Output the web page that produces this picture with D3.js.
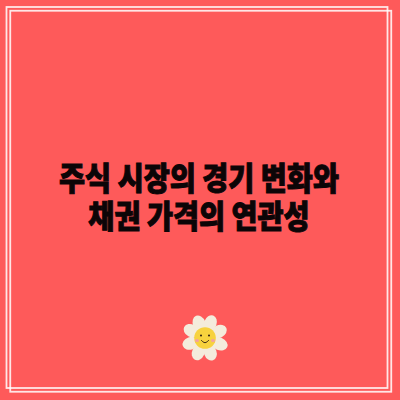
<!DOCTYPE html>
<html>
<head>
<meta charset="utf-8">
<script src="https://cdn.jsdelivr.net/npm/d3@7"></script>
<style>
html, body { margin: 0; padding: 0; background: #fe5a5a; }
svg { display: block; }
</style>
</head>
<body>
<div id="fig"></div>
<script>
var titleLines = ["주식 시장의 경기 변화와", "채권 가격의 연관성"];
var frames = ["back", "front"];
var petalAngles = [-22, 20, 65, 112, 160, 205, 250, 298];
var petalSizes = [1, 1, 0.95, 1, 0.95, 1, 0.95, 0.95];
var cheeks = [-1, 1];
var eyes = [-1, 1];

var width = 400, height = 400;

var svg = d3.select("#fig").append("svg")
  .attr("width", width)
  .attr("height", height);

svg.append("rect")
  .attr("width", width)
  .attr("height", height)
  .attr("fill", "#fe5a5a");

// two offset frames
var frameX = d3.scaleBand().domain(frames).range([6.5, 14]).paddingInner(0).paddingOuter(0);
svg.selectAll("rect.frame")
  .data(frames)
  .enter()
  .append("rect")
  .attr("class", "frame")
  .attr("x", d => frameX(d))
  .attr("y", d => frameX(d) + 0.5)
  .attr("width", 381)
  .attr("height", 381)
  .attr("fill", "none")
  .attr("stroke", "#fff")
  .attr("stroke-opacity", 0.85)
  .attr("stroke-width", 1.8);

// title, squeezed sideways like the original lettering
var lineY = d3.scalePoint().domain(titleLines).range([0, 38]);
var title = svg.append("text")
  .attr("transform", "translate(199,190) scale(0.885,1)")
  .attr("text-anchor", "middle")
  .attr("font-family", "'Noto Sans CJK KR'")
  .attr("font-weight", 900)
  .attr("font-size", 32)
  .attr("fill", "#0c0507")
  .attr("stroke", "#0c0507")
  .attr("stroke-width", 1);

title.selectAll("tspan")
  .data(titleLines)
  .enter()
  .append("tspan")
  .attr("x", 0)
  .attr("y", d => lineY(d))
  .text(d => d);

// flower
var flower = svg.append("g").attr("transform", "translate(205,338)");

flower.selectAll("ellipse.petal")
  .data(petalAngles)
  .enter()
  .append("ellipse")
  .attr("class", "petal")
  .attr("cx", 0)
  .attr("cy", -15.5)
  .attr("rx", 6.3)
  .attr("ry", (d, i) => 8.5 * petalSizes[i])
  .attr("transform", d => "rotate(" + d + ")")
  .attr("fill", "#f4ecdc");

flower.append("circle")
  .attr("r", 10.8)
  .attr("fill", "#f7d23e");

flower.selectAll("ellipse.cheek")
  .data(cheeks)
  .enter()
  .append("ellipse")
  .attr("class", "cheek")
  .attr("cx", d => d * 8)
  .attr("cy", 2.5)
  .attr("rx", 2)
  .attr("ry", 1.5)
  .attr("fill", "#f4a0a0");

flower.selectAll("circle.eye")
  .data(eyes)
  .enter()
  .append("circle")
  .attr("class", "eye")
  .attr("cx", d => d * 4)
  .attr("cy", -2.5)
  .attr("r", 1)
  .attr("fill", "#2a1a10");

flower.append("path")
  .attr("d", d3.line().curve(d3.curveBasis)([[-4, 2], [0, 6], [4, 2]]))
  .attr("fill", "none")
  .attr("stroke", "#2a1a10")
  .attr("stroke-width", 0.9);
</script>
</body>
</html>
